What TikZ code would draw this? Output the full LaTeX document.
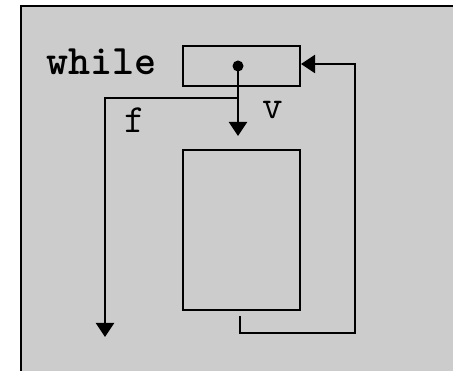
\documentclass[tikz,border=0pt]{standalone}
\usepackage{fontspec}
\usetikzlibrary{arrows.meta}
\definecolor{panelgrey}{HTML}{CCCCCC}
\begin{document}
\begin{tikzpicture}[x=1pt,y=-1pt,
  line/.style={line width=2pt, line join=miter},
  arr/.style={line, -{Triangle[length=14pt,width=18pt]}},
  box/.style={draw, line width=2pt, rectangle, inner sep=0},
  lbl/.style={font=\fontsize{40}{44}\selectfont\ttfamily, inner sep=0, anchor=base}]
\useasboundingbox (0,0) rectangle (453,371);
\fill[white] (0,0) rectangle (453,371);
\fill[panelgrey] (21,6) rectangle (453,371);
\draw[line width=2.2pt] (21,371) -- (21,6) -- (453,6);
% nodes
\node[lbl, anchor=base west, font=\fontsize{42}{46}\selectfont\ttfamily\bfseries] (w) at (46,75) {while};
\node[box, minimum width=117pt, minimum height=40pt] (cond) at (241.5,66) {};
\node[box, minimum width=117pt, minimum height=160pt] (body) at (241.5,230) {};
\node[circle, fill=black, inner sep=0, minimum size=11pt] (dot) at (238,66) {};
\node[lbl] (f) at (135,133) {f};
\node[lbl] (v) at (273,119) {v};
% coordinates
\coordinate (vend) at (238,136);
\coordinate (split) at (238,98);
\coordinate (fend) at (105,337);
\coordinate (lstart) at (240,316);
\coordinate (lin) at (cond.east |- 0,64);
% connectors
\draw[arr] (dot.center) -- (vend);
\draw[arr] (split) -- (105,98) -- (fend);
\draw[arr] (lstart) -- (240,333) -- (355,333) -- (355,64) -- (lin);
\end{tikzpicture}
\end{document}
